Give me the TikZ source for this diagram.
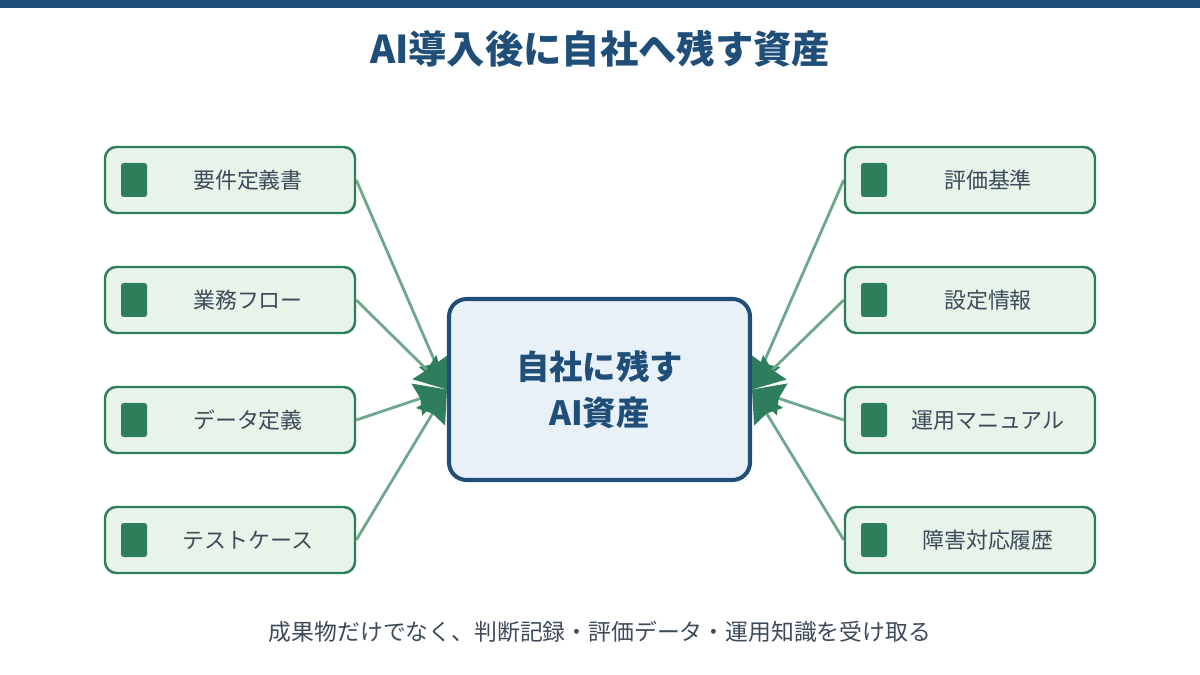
\documentclass[tikz,border=0pt]{standalone}
\usepackage{fontspec}
\setmainfont{Noto Sans CJK JP}
\usetikzlibrary{arrows.meta,backgrounds}
\definecolor{navy}{HTML}{1F4E79}
\definecolor{boxfill}{HTML}{E8F4EA}
\definecolor{boxline}{HTML}{2E7D5B}
\definecolor{txt}{HTML}{3C4A5A}
\definecolor{conn}{HTML}{6DA78D}
\definecolor{cfill}{HTML}{E8F0F8}
\begin{document}
\begin{tikzpicture}[x=0.02cm,y=-0.02cm,
  item/.style={draw=boxline, fill=boxfill, line width=1.4pt, rounded corners=6.5pt,
    minimum width=250*0.02cm, minimum height=66*0.02cm, inner sep=0pt},
  icon/.style={fill=boxline, rounded corners=1.5pt, minimum width=26*0.02cm, minimum height=34*0.02cm, inner sep=0pt},
  lbl/.style={text=txt, font=\fontsize{12.5pt}{15pt}\selectfont},
  conn/.style={draw=conn, line width=1.6pt, -{Stealth[length=18pt,width=19pt,inset=2pt,color=boxline]}},
  center/.style={draw=navy, fill=cfill, line width=2.3pt, rounded corners=10pt,
    minimum width=301*0.02cm, minimum height=181*0.02cm, align=center, inner sep=0pt}]
\useasboundingbox (0,0) rectangle (1200,675);
\fill[navy] (0,0) rectangle (1200,8);
\node[text=navy, font=\fontsize{21.8pt}{26pt}\selectfont\bfseries] (title) at (600,49) {AI導入後に自社へ残す資産};

\node[center, text=navy, font=\fontsize{19pt}{26pt}\selectfont\bfseries] (c) at (599.5,389.5) {自社に残す\\AI資産};

\foreach \n/\y/\t in {l1/180/要件定義書, l2/300/業務フロー, l3/420/データ定義, l4/540/テストケース}{
  \node[item] (\n) at (230,\y) {};
  \node[icon] (\n i) at (134,\y) {};
  \node[lbl] (\n t) at (248,\y) {\t};
}
\foreach \n/\y/\t in {r1/180/評価基準, r2/300/設定情報, r3/420/運用マニュアル, r4/540/障害対応履歴}{
  \node[item] (\n) at (970,\y) {};
  \node[icon] (\n i) at (874,\y) {};
  \node[lbl] (\n t) at (988,\y) {\t};
}

\begin{scope}[on background layer]
\foreach \n in {l1,l2,l3,l4}{ \draw[conn] (\n.east) -- (c.west); }
\foreach \n in {r1,r2,r3,r4}{ \draw[conn] (\n.west) -- (c.east); }
\end{scope}

\node[text=txt, font=\fontsize{13pt}{15pt}\selectfont] (foot) at (600,632) {成果物だけでなく、判断記録・評価データ・運用知識を受け取る};
\end{tikzpicture}
\end{document}
